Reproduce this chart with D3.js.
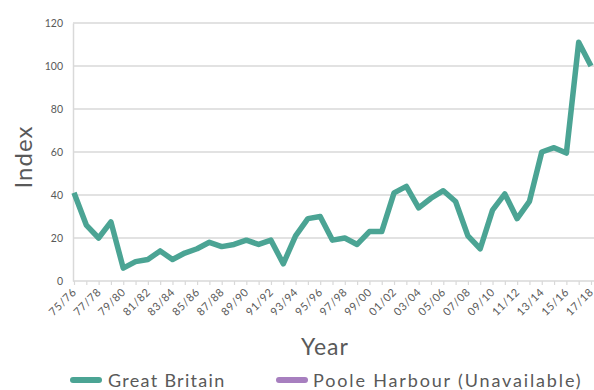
<!DOCTYPE html>
<html><head><meta charset="utf-8">
<script src="https://cdn.jsdelivr.net/npm/d3@7"></script>
<style>body{margin:0;background:#fff}svg{display:block}</style>
</head><body>
<svg id="c" width="594" height="390"></svg>
<script>
const years = ["75/76","76/77","77/78","78/79","79/80","80/81","81/82","82/83","83/84","84/85","85/86","86/87","87/88","88/89","89/90","90/91","91/92","92/93","93/94","94/95","95/96","96/97","97/98","98/99","99/00","00/01","01/02","02/03","03/04","04/05","05/06","06/07","07/08","08/09","09/10","10/11","11/12","12/13","13/14","14/15","15/16","16/17","17/18"];
const greatBritain = [41,26,20,27.5,6,9,10,14,10,13,15,18,16,17,19,17,19,8,21,29,30,19,20,17,23,23,41,44,34,38.5,42,37,21,15,33,40.5,29,37,60,62,59.5,111,100];
const yTicks = [0,20,40,60,80,100,120];
const legendNames = ["Great Britain","Poole Harbour (Unavailable)"];
const colors = ["#4ba494","#a77fbf"];

(function(){
const svg = d3.select("#c");
const font = "'Century Gothic', Lato, 'Noto Sans', sans-serif";
const mL = 74, mR = 591, mT = 23, mB = 281;
const x = d3.scalePoint().domain(years).range([mL, mR]);
const y = d3.scaleLinear().domain([0,120]).range([mB, mT]);

// gridlines
svg.append("g").selectAll("line").data(yTicks.filter(d=>d>0)).join("line")
  .attr("x1", mL-1).attr("x2", 594).attr("y1", d=>y(d)).attr("y2", d=>y(d))
  .attr("stroke","#d9d9d9").attr("stroke-width",1.5);

// y axis
const ya = svg.append("g").attr("transform",`translate(${mL-1},0)`)
  .call(d3.axisLeft(y).tickValues(yTicks).tickSize(0).tickPadding(10));
ya.select(".domain").attr("stroke","#d9d9d9").attr("stroke-width",1.5);
ya.selectAll("text").attr("fill","#595959").style("font-family",font).style("font-size","10.5px");

// x axis
const xa = svg.append("g").attr("transform",`translate(0,${mB})`)
  .call(d3.axisBottom(x).tickSize(4).tickSizeOuter(0));
xa.select(".domain").attr("stroke","#d9d9d9").attr("stroke-width",1.5).attr("d",`M${mL-1},0H594`);
xa.selectAll(".tick line").attr("stroke","#d9d9d9").attr("stroke-width",1.2);
xa.selectAll(".tick text")
  .text((d,i)=> i%2===0 ? d : "")
  .attr("fill","#595959").style("font-family",font).style("font-size","11px").style("letter-spacing","0.6px")
  .attr("text-anchor","end").attr("x",0).attr("y",0).attr("dy","0.35em")
  .attr("transform","translate(0,9) rotate(-45)");

// line
svg.append("path").datum(greatBritain)
  .attr("fill","none").attr("stroke",colors[0]).attr("stroke-width",5.5)
  .attr("stroke-linejoin","round").attr("stroke-linecap","butt")
  .attr("d", d3.line().x((d,i)=>x(years[i])).y(d=>y(d)));

// axis titles
svg.append("text").attr("transform","translate(32,157) rotate(-90)")
  .attr("text-anchor","middle").attr("fill","#595959")
  .style("font-family",font).style("font-size","24px").style("letter-spacing","1px").text("Index");
svg.append("text").attr("x",325).attr("y",355).attr("text-anchor","middle")
  .attr("fill","#595959").style("font-family",font).style("font-size","23px").style("letter-spacing","1px").text("Year");

// legend
const lg = [{x:73,tx:108,ls:1.3},{x:279,tx:313,ls:1.85}];
legendNames.forEach((n,i)=>{
  svg.append("line").attr("x1",lg[i].x).attr("x2",lg[i].x+26).attr("y1",380).attr("y2",380)
    .attr("stroke",colors[i]).attr("stroke-width",6).attr("stroke-linecap","round");
  svg.append("text").attr("x",lg[i].tx).attr("y",387).attr("fill","#595959")
    .style("font-family",font).style("font-size","18px").style("letter-spacing",lg[i].ls+"px").text(n);
});
})();
</script>
</body></html>
